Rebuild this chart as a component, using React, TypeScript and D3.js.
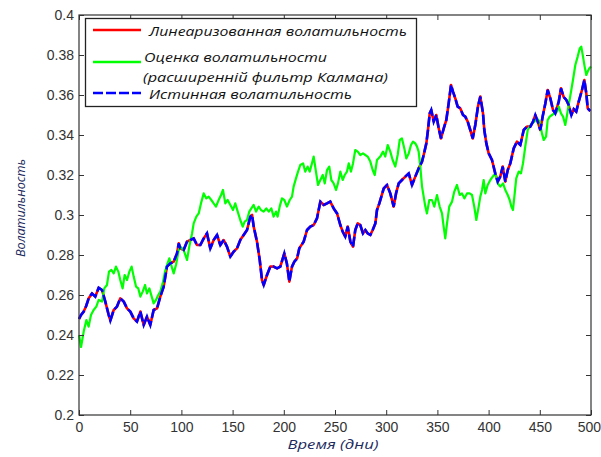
import React, { useRef, useEffect } from "react";
import * as d3 from "d3";

// [day, volatility]
const trueVol: [number, number][] = [
  [0, 0.248], [2, 0.25], [4.6, 0.2517], [7, 0.2545], [9.5, 0.2584], [12.7, 0.2608], [15.9, 0.2592],
  [19.2, 0.2636], [22.5, 0.2625], [25.7, 0.2567], [29, 0.25], [30.6, 0.2472], [33.9, 0.2525],
  [37.1, 0.2542], [40.3, 0.2583], [43.7, 0.2567], [46.9, 0.2533], [50.1, 0.2517], [53.4, 0.2483],
  [56.6, 0.2467], [59.9, 0.2517], [63.2, 0.245], [66.4, 0.2492], [69.6, 0.245], [72.9, 0.2525],
  [76.2, 0.2533], [79.4, 0.2592], [82.7, 0.2642], [85.9, 0.2742], [89.2, 0.2758], [92.5, 0.2767],
  [95.7, 0.2808], [97.4, 0.2858], [98.9, 0.2833], [102.2, 0.2825], [105.5, 0.2867], [108.7, 0.2875],
  [112, 0.2883], [115.2, 0.285], [118.5, 0.285], [121.8, 0.2883], [125, 0.2908], [128.2, 0.2833],
  [131.5, 0.2875], [134.8, 0.29], [138, 0.285], [141.3, 0.2875], [144.5, 0.2842], [147.8, 0.2792],
  [151.1, 0.2817], [154.3, 0.2833], [157.5, 0.2875], [160.8, 0.29], [164.1, 0.2925], [167.3, 0.2992],
  [169, 0.3], [170.6, 0.2942], [173.8, 0.2867], [176.5, 0.2775], [178.7, 0.2675], [180.4, 0.265],
  [183.6, 0.27], [186.8, 0.2742], [190, 0.2742], [193.4, 0.2733], [196.6, 0.2742], [200.5, 0.2808],
  [203, 0.2758], [205.4, 0.2667], [208, 0.2742], [210.3, 0.2767], [213, 0.2783], [215.1, 0.2833],
  [219.4, 0.2867], [222.7, 0.2925], [225.9, 0.2942], [229.2, 0.295], [232.4, 0.2983], [235.7, 0.3067],
  [239, 0.305], [242.2, 0.3058], [245.4, 0.3067], [248.7, 0.3033], [252, 0.3008], [255.2, 0.295],
  [257.5, 0.2917], [260, 0.2892], [262.4, 0.2942], [265, 0.2867], [267.6, 0.2842], [269.8, 0.2925],
  [272.2, 0.2958], [274.7, 0.295], [277.3, 0.2908], [279.6, 0.2925], [281.9, 0.2908], [284.5, 0.29],
  [286.8, 0.2925], [289.4, 0.2958], [291, 0.3025], [293.3, 0.3058], [297.6, 0.3133], [300.8, 0.315],
  [304, 0.3108], [307.3, 0.3042], [309.6, 0.3108], [312.2, 0.3158], [315.4, 0.3175], [318.7, 0.3192],
  [322, 0.3208], [325.2, 0.315], [328.4, 0.3192], [331.7, 0.3233], [335, 0.3267], [336.6, 0.33],
  [339.2, 0.3358], [340.8, 0.3425], [342.5, 0.3508], [344, 0.3525], [346.4, 0.3467], [348.9, 0.35],
  [351.3, 0.3433], [353.5, 0.3383], [356.2, 0.3433], [358.7, 0.3475], [361, 0.3558], [363.3, 0.365],
  [365.2, 0.3617], [367.5, 0.3583], [369.8, 0.3542], [372.4, 0.3533], [375, 0.35], [377.2, 0.3492],
  [379.6, 0.3467], [382.1, 0.3425], [384.5, 0.3383], [387, 0.345], [389.6, 0.3542], [391.9, 0.3592],
  [394.5, 0.351], [395.8, 0.3425], [397.8, 0.3358], [400.1, 0.3308], [403.3, 0.3275], [406.5, 0.3208],
  [408.9, 0.3167], [411.4, 0.3192], [413.8, 0.3242], [416.3, 0.3167], [418.7, 0.3225], [421.2, 0.3258],
  [424.5, 0.3333], [427.7, 0.3367], [431, 0.335], [434.3, 0.3425], [437.5, 0.3442], [440.7, 0.3442],
  [443.4, 0.3467], [445.6, 0.35], [448, 0.3467], [450.5, 0.3425], [452.8, 0.3492], [455.4, 0.3558],
  [457.7, 0.3625], [460.3, 0.3583], [462.9, 0.3525], [465.1, 0.3508], [468.5, 0.3567], [470.7, 0.3633],
  [473.3, 0.359], [475.9, 0.3575], [478.2, 0.355], [480.8, 0.35], [483.1, 0.353], [485.6, 0.3517],
  [488, 0.3567], [491.2, 0.3625], [493.5, 0.3675], [495.4, 0.3608], [496.8, 0.3533], [499.3, 0.352],
];

// linearized curve lies on top of the true one in the picture
const linVol: [number, number][] = trueVol;

const ekfVol: [number, number][] = [
  [0, 0.24], [2, 0.234], [4.6, 0.2417], [7.2, 0.2475], [9.4, 0.2442], [11.7, 0.25], [14.3, 0.2525],
  [16.9, 0.2542], [19.2, 0.2575], [22.5, 0.2567], [24.7, 0.2633], [27.3, 0.265], [29.3, 0.2717],
  [31.6, 0.2725], [33.9, 0.2708], [36.1, 0.2742], [38.4, 0.2717], [40.3, 0.2675], [42.6, 0.2633],
  [44.6, 0.27], [46.9, 0.2675], [49.2, 0.2717], [51.4, 0.2742], [53.4, 0.2692], [55.7, 0.2642],
  [57.9, 0.2633], [59.9, 0.2592], [62.2, 0.2617], [64.5, 0.265], [66.4, 0.2608], [68.7, 0.2633],
  [71, 0.2592], [72.9, 0.2558], [75.2, 0.2575], [77.4, 0.26], [79.4, 0.2617], [81.7, 0.2658],
  [84, 0.2717], [85.9, 0.275], [88.2, 0.2783], [90.5, 0.2742], [92.5, 0.2708], [94.7, 0.275],
  [97.4, 0.2825], [98.9, 0.2842], [102.2, 0.2825], [105.5, 0.2775], [107.7, 0.2842], [110.4, 0.2908],
  [112, 0.2958], [114.6, 0.2992], [116.9, 0.3008], [119.1, 0.3058], [121.8, 0.3108], [124.3, 0.3083],
  [126.6, 0.3092], [129.2, 0.3075], [131.5, 0.3058], [133.8, 0.3042], [136.4, 0.3075], [138.7, 0.31],
  [140.6, 0.3125], [142.9, 0.3058], [145.2, 0.3075], [147.8, 0.305], [150.4, 0.3025], [152.6, 0.3058],
  [155, 0.3017], [157.5, 0.2975], [159.9, 0.2942], [161.8, 0.2967], [164.1, 0.2975], [166.3, 0.3017],
  [168.3, 0.3033], [170.6, 0.305], [172.9, 0.3017], [175.5, 0.3042], [177.7, 0.3025], [180.4, 0.3017],
  [182.9, 0.3033], [185.3, 0.3017], [187.8, 0.3033], [190.1, 0.2992], [192.4, 0.3017], [194, 0.2992],
  [196, 0.3042], [198.2, 0.3083], [200.5, 0.3075], [203.1, 0.3042], [205.8, 0.3075], [208, 0.3092],
  [209.6, 0.3142], [211.9, 0.3183], [213.9, 0.3217], [216.1, 0.325], [218.8, 0.3258], [221, 0.3217],
  [223.3, 0.3242], [225.3, 0.3217], [227.5, 0.3258], [229.2, 0.3292], [231.4, 0.3217], [233.4, 0.315],
  [235.7, 0.3175], [238, 0.32], [240, 0.3158], [242.2, 0.3225], [244.4, 0.3242], [246.4, 0.3175],
  [248.7, 0.3158], [251, 0.3125], [252.9, 0.3158], [255.2, 0.3217], [257.5, 0.3175], [259.5, 0.32],
  [261.7, 0.3217], [263.4, 0.3258], [265.6, 0.3217], [267.6, 0.3258], [269.8, 0.3325], [272.2, 0.3317],
  [274.7, 0.33], [277.3, 0.3308], [279.6, 0.33], [281.9, 0.3292], [284.5, 0.3267], [286.8, 0.3225],
  [288.8, 0.32], [291, 0.3275], [294.2, 0.3292], [296.9, 0.3317], [299.1, 0.3292], [301.5, 0.335],
  [304, 0.3317], [306.3, 0.3275], [308.9, 0.3242], [311.2, 0.33], [313.2, 0.3375], [315.4, 0.3383],
  [317.7, 0.3333], [319.6, 0.3283], [322, 0.3308], [324.2, 0.335], [326.2, 0.3367], [328.4, 0.3358],
  [330.1, 0.3342], [331.7, 0.3317], [333.3, 0.3242], [335, 0.3142], [336.6, 0.3092], [338.2, 0.3042],
  [339.8, 0.3008], [342.1, 0.3075], [344.7, 0.3075], [347, 0.3042], [349.6, 0.31], [352.2, 0.3042],
  [354.5, 0.3008], [356.1, 0.2942], [357.7, 0.2883], [359.4, 0.2958], [361.6, 0.3042], [364.3, 0.3067],
  [366.5, 0.3117], [369.1, 0.315], [371.8, 0.31], [374, 0.3108], [376.3, 0.3083], [378.9, 0.3108],
  [381.5, 0.3108], [383.8, 0.31], [386, 0.3042], [388, 0.2975], [390.3, 0.3042], [391.9, 0.3092],
  [393.6, 0.3125], [395.2, 0.3175], [396.8, 0.3108], [399.1, 0.315], [401.7, 0.3175], [404, 0.3192],
  [406.5, 0.3208], [408.9, 0.3158], [411.4, 0.3142], [414.1, 0.3158], [416.3, 0.3125], [418.7, 0.31],
  [420.6, 0.3075], [422.2, 0.3042], [423.8, 0.3025], [425.5, 0.3108], [427, 0.3183], [429.4, 0.3217],
  [431.6, 0.3208], [433.6, 0.3258], [435.8, 0.3342], [438.2, 0.3425], [440.1, 0.3442], [442.4, 0.3458],
  [444.6, 0.3467], [447.3, 0.3483], [449.9, 0.3467], [452.1, 0.3408], [453.8, 0.3375], [456.1, 0.3392],
  [457.7, 0.3475], [459.7, 0.3492], [461.9, 0.35], [464.2, 0.3508], [466.8, 0.3517], [468.5, 0.3542],
  [470.7, 0.3508], [472.7, 0.3492], [474.9, 0.345], [476.6, 0.35], [478.5, 0.3558], [480.5, 0.3617],
  [482.4, 0.3675], [484.7, 0.375], [487, 0.3792], [489, 0.3833], [490.5, 0.3842], [492.2, 0.3792],
  [493.8, 0.3742], [495.4, 0.37], [496.8, 0.3717], [498.3, 0.3733], [500, 0.3742],
];

const xTicks = [0, 50, 100, 150, 200, 250, 300, 350, 400, 450, 500];
const yTicks = [0.2, 0.22, 0.24, 0.26, 0.28, 0.3, 0.32, 0.34, 0.36, 0.38, 0.4];

const legendItems = [
  { lines: ["Линеаризованная волатильность"], color: "#ff0000", dash: null, widths: [258] },
  { lines: ["Оценка волатильности", "(расширенній фильтр Калмана)"], color: "#00ff00", dash: null, widths: [183, 245] },
  { lines: ["Истинная волатильность"], color: "#0000ff", dash: "10,3", widths: [203] },
];

const W = 601, H = 457;
const tickFont = "'Liberation Sans Narrow', 'Arial Narrow', 'Liberation Sans', sans-serif";
const labelFont = "'Open Sans', 'DejaVu Sans', sans-serif";

const App = () => {
  const ref = useRef<SVGSVGElement | null>(null);

  useEffect(() => {
    const svg = d3.select(ref.current);
    svg.selectAll("*").remove();

    const left = 79, right = 591, top = 15, bottom = 415;
    const x = d3.scaleLinear().domain([0, 500]).range([left, right]);
    const y = d3.scaleLinear().domain([0.2, 0.4]).range([bottom, top]);

    svg.append("rect").attr("width", W).attr("height", H).attr("fill", "#fff");

    const line = d3.line<[number, number]>()
      .x((d) => x(d[0]))
      .y((d) => y(d[1]));

    const g = svg.append("g");
    g.append("path").datum(linVol).attr("d", line).attr("fill", "none")
      .attr("stroke", "#ff0000").attr("stroke-width", 2.6).attr("stroke-linejoin", "round");
    g.append("path").datum(ekfVol).attr("d", line).attr("fill", "none")
      .attr("stroke", "#00ff00").attr("stroke-width", 2.2).attr("stroke-linejoin", "round");
    g.append("path").datum(trueVol).attr("d", line).attr("fill", "none")
      .attr("stroke", "#0000ff").attr("stroke-width", 2.6).attr("stroke-dasharray", "10,3");

    const fmtY = (d: number) => String(+d.toFixed(2));

    const styleAxis = (sel: any) => {
      sel.select(".domain").remove();
      sel.selectAll(".tick line").attr("stroke", "#333");
      sel.selectAll(".tick text").attr("fill", "#333").attr("font-family", tickFont).attr("font-size", 14);
    };

    const xAxis = svg.append("g").attr("transform", `translate(0,${bottom})`)
      .call(d3.axisBottom(x).tickValues(xTicks).tickSize(-5).tickPadding(7).tickFormat((d: any) => String(d)))
      .call(styleAxis);
    // last label sits against the page edge, as in the original
    xAxis.selectAll(".tick text").filter((d: any) => d === 500)
      .attr("text-anchor", "end").attr("x", 9.5);
    svg.append("g").attr("transform", `translate(0,${top})`)
      .call(d3.axisTop(x).tickValues(xTicks).tickSize(-5).tickFormat(() => ""))
      .call(styleAxis);
    svg.append("g").attr("transform", `translate(${left},0)`)
      .call(d3.axisLeft(y).tickValues(yTicks).tickSize(-5).tickPadding(5).tickFormat((d: any) => fmtY(d)))
      .call(styleAxis);
    svg.append("g").attr("transform", `translate(${right},0)`)
      .call(d3.axisRight(y).tickValues(yTicks).tickSize(-5).tickFormat(() => ""))
      .call(styleAxis);

    svg.append("rect").attr("x", left).attr("y", top).attr("width", right - left).attr("height", bottom - top)
      .attr("fill", "none").attr("stroke", "#333").attr("stroke-width", 1.2);

    // legend
    const lg = svg.append("g");
    lg.append("rect").attr("x", 85.5).attr("y", 18.5).attr("width", 331).attr("height", 88)
      .attr("fill", "#fff").attr("stroke", "#222").attr("stroke-width", 1.3);
    const rows = [[31], [57, 77], [94]];
    const lineY = [30, 62, 93];
    const textX = [[149], [144, 143], [149]];
    legendItems.forEach((item, i) => {
      lg.append("line").attr("x1", 93).attr("x2", 141).attr("y1", lineY[i]).attr("y2", lineY[i])
        .attr("stroke", item.color).attr("stroke-width", 2.6)
        .attr("stroke-dasharray", item.dash ?? null);
      item.lines.forEach((t, j) => {
        lg.append("text").attr("x", textX[i][j]).attr("y", rows[i][j]).attr("dy", "0.35em")
          .attr("font-family", labelFont).attr("font-style", "italic").attr("font-size", 13)
          .attr("fill", "#111").attr("textLength", item.widths[j]).attr("lengthAdjust", "spacingAndGlyphs")
          .text(t);
      });
    });

    // axis titles
    svg.append("text").attr("x", 333).attr("y", 444).attr("dy", "0.35em").attr("text-anchor", "middle")
      .attr("font-family", labelFont).attr("font-style", "italic").attr("font-size", 13)
      .attr("fill", "#1c2a5e").attr("textLength", 91).attr("lengthAdjust", "spacingAndGlyphs")
      .text("Время (дни)");
    svg.append("text").attr("transform", "translate(20,208) rotate(-90)").attr("dy", "0.35em")
      .attr("text-anchor", "middle").attr("font-family", labelFont).attr("font-style", "italic")
      .attr("font-size", 13).attr("fill", "#1c2a5e").attr("textLength", 98).attr("lengthAdjust", "spacingAndGlyphs")
      .text("Волатильность");
  }, []);

  return (
    <svg ref={ref} width={W} height={H} style={{ position: "absolute", left: 0, top: 0 }} />
  );
};

export default App;
